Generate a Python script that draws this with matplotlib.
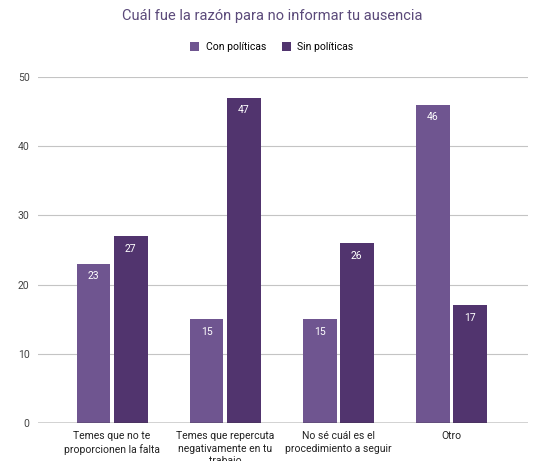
import matplotlib
matplotlib.use("Agg")
import matplotlib.pyplot as plt
import numpy as np

#------------DATOS------------------#
categorias = ["Temes que no te\nproporcionen la falta",
              "Temes que repercuta\nnegativamente en tu\ntrabajo",
              "No sé cuál es el\nprocedimiento a seguir",
              "Otro"]
con_politicas = [23, 15, 15, 46]
sin_politicas = [27, 47, 26, 17]
series = ["Con políticas", "Sin políticas"]
colores = ["#6f5590", "#51346e"]

#------------GRAFICA----------------#
plt.rcParams["font.family"] = ["Roboto", "DejaVu Sans"]
fig = plt.figure(figsize=(5.33, 4.61), dpi=100)
ax = fig.add_axes([0.0713, 0.0824, 0.9193, 0.7506])

x = np.arange(len(categorias))
ancho = 0.30
desp = 0.164
for vals, nombre, color, d in zip([con_politicas, sin_politicas], series, colores, [-desp, desp]):
    barras = ax.bar(x + d, vals, ancho, color=color, label=nombre, zorder=3)
    for b, v in zip(barras, vals):
        ax.annotate(str(v), (b.get_x() + b.get_width() / 2, v), xytext=(0, -9),
                    textcoords="offset points", ha="center", va="center",
                    color="white", fontsize=7.5, zorder=4)

ax.set_xlim(-0.655, 3.68)
ax.set_ylim(0, 50)
ax.set_yticks([0, 10, 20, 30, 40, 50])
ax.yaxis.grid(True, color="#c4c4c4", linewidth=0.8, zorder=0)
ax.axhline(0, color="#333333", linewidth=1, zorder=5)
for s in ax.spines.values():
    s.set_visible(False)
ax.tick_params(axis="y", length=0, labelsize=7.5, labelcolor="#444444", pad=6)
ax.tick_params(axis="x", length=0, labelsize=7.5, labelcolor="#222222", pad=6)
ax.set_xticks(x)
ax.set_xticklabels(categorias, linespacing=1.3, va="top")

fig.text(0.51, 0.965, "Cuál fue la razón para no informar tu ausencia",
         ha="center", va="center", fontsize=10.5, color="#5b4a7a")
fig.legend(loc="center", bbox_to_anchor=(0.51, 0.898), ncol=2, frameon=False,
           fontsize=7.5, handlelength=0.9, handleheight=0.9, columnspacing=1.5,
           handletextpad=0.6)

plt.savefig("out.png", dpi=100)
